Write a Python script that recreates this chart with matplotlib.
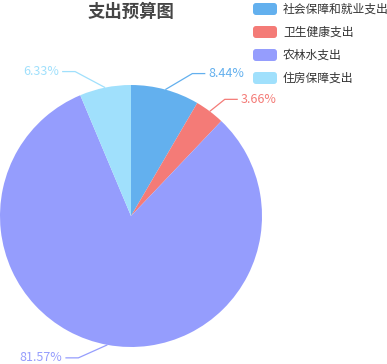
import numpy as np
import matplotlib
matplotlib.use("Agg")
import matplotlib.pyplot as plt
from matplotlib.patches import FancyBboxPatch

plt.rcParams['font.family'] = ['Noto Sans CJK SC', 'DejaVu Sans']

# data
categories = ["社会保障和就业支出", "卫生健康支出", "农林水支出", "住房保障支出"]
shares = [8.44, 3.66, 81.57, 6.33]
colors = ["#63b0ee", "#f47b77", "#959dfd", "#a0e0fc"]
title = "支出预算图"

W, H = 387, 364
fig = plt.figure(figsize=(W / 100, H / 100), dpi=100)
ax = fig.add_axes([0, 0, 1, 1])
ax.set_xlim(0, W)
ax.set_ylim(0, H)
ax.axis("off")


def Y(py):
    return H - py


cx, cy, r = 131, 216, 131
wedges, _ = ax.pie(shares, colors=colors, startangle=90, counterclock=False,
                   center=(cx, Y(cy)), radius=r, frame=True,
                   wedgeprops=dict(linewidth=0))
ax.set_xlim(0, W)
ax.set_ylim(0, H)
ax.set_aspect("auto")
ax.axis("off")

# label lines: elbow offset from the edge, in pixels
elbows = [(27, -16), (15, -12), (-29, 13), (-30, -16)]
for w, val, col, (ex, ey) in zip(wedges, shares, colors, elbows):
    mid = np.deg2rad((w.theta1 + w.theta2) / 2)
    px = cx + r * np.cos(mid)
    py = cy - r * np.sin(mid)
    bx, by = px + ex, py + ey
    side = 1 if ex > 0 else -1
    tx = bx + side * 13
    ax.plot([px, bx, tx], [Y(py), Y(by), Y(by)], color=col, lw=0.9,
            solid_capstyle="butt")
    ax.text(tx + side * 3, Y(by), f"{val:.2f}%", color=col, fontsize=9,
            ha="left" if side > 0 else "right", va="center")

ax.text(131, Y(12), title, fontsize=12.5, fontweight="bold", color="#464646",
        ha="center", va="center")

# legend
for i, (name, col) in enumerate(zip(categories, colors)):
    yc = 9 + i * 23
    ax.add_patch(FancyBboxPatch((253, Y(yc + 6)), 24, 12,
                                boxstyle="round,pad=0,rounding_size=3",
                                fc=col, ec="none"))
    ax.text(283, Y(yc), name, fontsize=8.5, color="#333333",
            ha="left", va="center")

fig.savefig("out.png", dpi=100)
